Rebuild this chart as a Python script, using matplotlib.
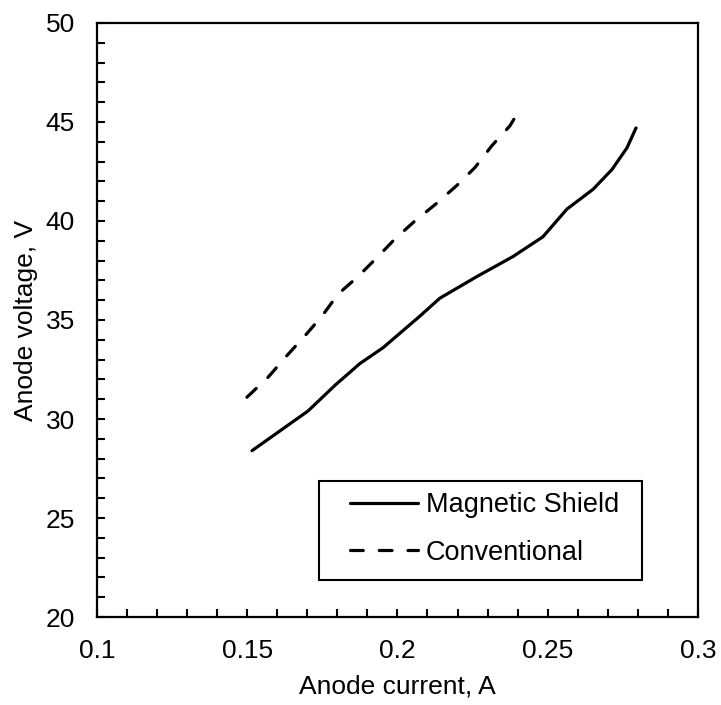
import matplotlib
matplotlib.use("Agg")
from matplotlib import pyplot as plt
from matplotlib.patches import Rectangle
from matplotlib.ticker import MultipleLocator

# Magnetic shield thruster (solid)
shield_current = [0.1516, 0.1702, 0.1792, 0.1875, 0.1952, 0.2075, 0.2141, 0.2265,
                  0.2384, 0.2484, 0.2564, 0.2651, 0.2714, 0.2764, 0.2794]
shield_voltage = [28.4, 30.4, 31.7, 32.8, 33.6, 35.2, 36.1, 37.2,
                  38.2, 39.2, 40.6, 41.6, 42.6, 43.7, 44.7]

# Conventional thruster (dashed)
conv_current = [0.1499, 0.1569, 0.1632, 0.1692, 0.1749, 0.1802, 0.1869, 0.1935,
                0.1992, 0.2058, 0.2131, 0.2198, 0.2258, 0.2314, 0.2374, 0.2390]
conv_voltage = [31.1, 32.1, 33.2, 34.2, 35.2, 36.3, 37.2, 38.2,
                39.1, 40.0, 40.9, 41.8, 42.7, 43.8, 44.8, 45.2]

plt.rcParams['font.family'] = ['Liberation Sans', 'DejaVu Sans']
fs = 19

fig = plt.figure(figsize=(7.21, 7.05), dpi=100)
ax = fig.add_axes([0.1345, 0.1248, 0.8335, 0.8426])

ax.plot(shield_current, shield_voltage, color='black', lw=2.3,
        solid_capstyle='round', solid_joinstyle='round', label='Magnetic Shield')
ax.plot(conv_current, conv_voltage, color='black', lw=2.3, linestyle=(0, (4, 5)),
        dash_capstyle='round', label='Conventional')

ax.set_xlim(0.1, 0.3)
ax.set_ylim(20, 50)
ax.xaxis.set_minor_locator(MultipleLocator(0.01))
ax.yaxis.set_major_locator(MultipleLocator(5))
ax.yaxis.set_minor_locator(MultipleLocator(1))
ax.set_xticks([0.1, 0.15, 0.2, 0.25, 0.3])
ax.set_xticklabels(['0.1', '0.15', '0.2', '0.25', '0.3'])
ax.tick_params(which='both', direction='in', length=6, width=1.5, labelsize=fs)
ax.tick_params(axis='x', pad=16)
ax.tick_params(axis='y', pad=16)
for s in ax.spines.values():
    s.set_linewidth(1.6)

ax.set_xlabel('Anode current, A', fontsize=fs, labelpad=8)
ax.set_ylabel('Anode voltage, V', fontsize=fs, labelpad=5)

# legend box drawn separately so the entries can sit inset from its left edge
ax.add_patch(Rectangle((0.369, 0.062), 0.538, 0.167, transform=ax.transAxes,
                       facecolor='white', edgecolor='black', lw=1.5, zorder=4))
leg = ax.legend(loc='center left', bbox_to_anchor=(0.421, 0.148),
                fontsize=19.5, frameon=False, handlelength=2.5,
                labelspacing=0.8, borderpad=0, handletextpad=0.3,
                borderaxespad=0)
leg.set_zorder(5)

fig.savefig('out.png', dpi=100)
